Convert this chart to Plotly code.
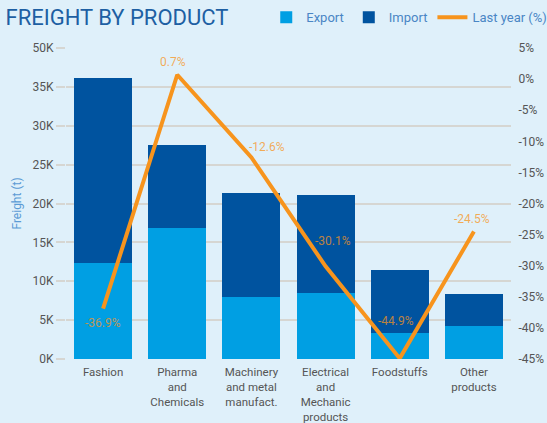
import plotly.graph_objects as go

categories = ["Fashion", "Pharma<br>and<br>Chemicals", "Machinery<br>and metal<br>manufact.",
              "Electrical<br>and<br>Mechanic<br>products", "Foodstuffs", "Other<br>products"]
export_vals = [12300, 16900, 8000, 8500, 3400, 4300]
total_vals = [36200, 27500, 21300, 21100, 11400, 8300]
import_vals = [t - e for t, e in zip(total_vals, export_vals)]
last_year_pct = [-36.9, 0.7, -12.6, -30.1, -44.9, -24.5]

left_tickvals = [0, 5000, 10000, 15000, 20000, 25000, 30000, 35000, 40000]
left_ticktext = ["0K", "5K", "10K", "15K", "20K", "25K", "30K", "35K", "50K"]
right_tickvals = [-45, -40, -35, -30, -25, -20, -15, -10, -5, 0, 5]
right_ticktext = [f"{v}%" for v in right_tickvals]

# label pixel offsets (style only)
label_xshift = [0, -4, 16, 7, -4, -2]
label_yshift = [-14, 13, 10, 25, 37, 12]

EXPORT = "#009fe3"
IMPORT = "#00539f"
ORANGE = "#f7941d"
LABEL = "rgba(247,148,29,0.75)"
BG = "#dff0fa"
GRID = "#d6d6d2"

fig = go.Figure()
fig.add_trace(go.Bar(x=categories, y=export_vals, name="Export", marker_color=EXPORT,
                     marker_line_width=0))
fig.add_trace(go.Bar(x=categories, y=import_vals, name="Import", marker_color=IMPORT,
                     marker_line_width=0))
fig.add_trace(go.Scatter(x=categories, y=last_year_pct, name="Last year (%)", yaxis="y2",
                         mode="lines", line=dict(color=ORANGE, width=4)))

for cat, v, dx, dy in zip(categories, last_year_pct, label_xshift, label_yshift):
    fig.add_annotation(x=cat, y=v, xref="x", yref="y2", text=f"{v}%", showarrow=False,
                       xanchor="center", yanchor="middle", xshift=dx, yshift=dy,
                       font=dict(color=LABEL, size=12, family="Roboto"))

fig.update_layout(
    width=547, height=423,
    barmode="stack", bargap=0.22,
    paper_bgcolor=BG, plot_bgcolor=BG,
    margin=dict(l=66, r=36, t=48, b=64, autoexpand=False),
    font=dict(family="Roboto", color="#555555", size=12),
    title=dict(text="FREIGHT BY PRODUCT", x=0.01, xanchor="left", y=0.978, yanchor="top",
               font=dict(family="Roboto", size=22, color="#1d5fa3")),
    legend=dict(orientation="h", x=0.45, xanchor="left", y=1.147, yanchor="top",
                font=dict(size=13, color="#4a86c5"), bgcolor="rgba(0,0,0,0)",
                traceorder="normal", itemwidth=30),
    xaxis=dict(showgrid=False, tickfont=dict(size=11.5, color="#555555"), ticks="outside",
               ticklen=2, tickcolor="rgba(0,0,0,0)",
               showline=False, automargin=False),
    yaxis=dict(range=[0, 40000], tickvals=left_tickvals, ticktext=left_ticktext,
               showgrid=True, gridcolor=GRID, gridwidth=2, ticks="outside", ticklen=9,
               tickcolor=GRID, tickwidth=2, zeroline=False, automargin=False,
               title=dict(text="Freight (t)", font=dict(size=12, color="#5b9bd5"), standoff=8),
               tickfont=dict(size=12, color="#555555")),
    yaxis2=dict(range=[-45, 5], tickvals=right_tickvals, ticktext=right_ticktext,
                overlaying="y", side="right", showgrid=False, zeroline=False,
                automargin=False, ticklen=4, ticks="outside", tickcolor="rgba(0,0,0,0)",
                tickfont=dict(size=12, color="#555555")),
)

fig.write_html("out.html", config={"displayModeBar": False},
               post_script="document.body.style.margin='0';document.body.style.overflow='hidden';")
